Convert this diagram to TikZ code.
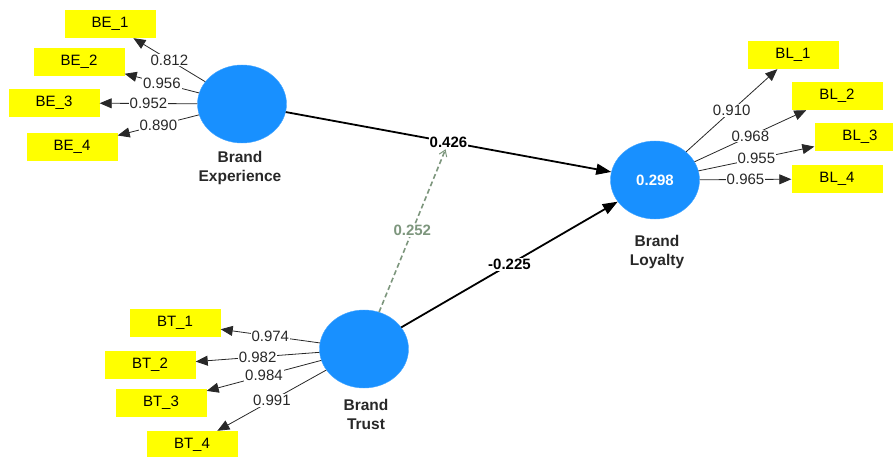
\documentclass[tikz,border=0pt]{standalone}
\usepackage{fontspec}
\setmainfont{Liberation Sans}
\usetikzlibrary{arrows.meta}
\usetikzlibrary{shapes.geometric}
\usetikzlibrary{positioning}
\definecolor{latentBlue}{RGB}{24,144,255}
\definecolor{itemYellow}{RGB}{255,255,0}
\definecolor{modGreen}{RGB}{125,150,125}
\definecolor{textGray}{RGB}{40,40,40}

\begin{document}
\begin{tikzpicture}[x=1pt,y=-1pt,
  latent/.style={ellipse,fill=latentBlue,draw=latentBlue!80!white,
  minimum width=89pt,minimum height=78pt,inner sep=0pt,
  text=white,font=\fontsize{15}{17}\selectfont\bfseries},
  indicator/.style={rectangle,fill=itemYellow,minimum width=91pt,
  minimum height=28pt,inner sep=0pt,font=\fontsize{15}{17}\selectfont},
  latent label/.style={align=center,text=textGray,
  font=\fontsize{15.5}{19}\selectfont\bfseries},
  loading/.style={-{Triangle[length=12pt,width=10pt]},line width=0.8pt,
  draw=textGray},
  weight/.style={fill=white,inner sep=1pt,text=textGray,
  font=\fontsize{15}{17}\selectfont},
  path coef/.style={-{Triangle[length=15pt,width=11pt]},line width=1.8pt},
  coef/.style={fill=white,inner sep=1pt,font=\fontsize{15}{17}\selectfont\bfseries}]
\clip (0,0) rectangle (893,457);
%------------------------------------------------------------------------
% Constructs
%------------------------------------------------------------------------
\node[latent] (BE) at (242,104) {};
\node[latent] (BL) at (655,180) {0.298};
\node[latent] (BT) at (364,349) {};
\node[latent label] (BElab) at (240,168) {Brand\\Experience};
\node[latent label] (BLlab) at (657,252) {Brand\\Loyalty};
\node[latent label] (BTlab) at (366,414) {Brand\\Trust};
%------------------------------------------------------------------------
% Indicators
%------------------------------------------------------------------------
\node[indicator] (BE1) at (110,24) {BE\_1};
\node[indicator] (BE2) at (79,62) {BE\_2};
\node[indicator] (BE3) at (54,103) {BE\_3};
\node[indicator] (BE4) at (72,147) {BE\_4};
\node[indicator] (BL1) at (793,55) {BL\_1};
\node[indicator] (BL2) at (837,96) {BL\_2};
\node[indicator] (BL3) at (860,137) {BL\_3};
\node[indicator] (BL4) at (837,179) {BL\_4};
\node[indicator] (BT1) at (175,323) {BT\_1};
\node[indicator] (BT2) at (150,365) {BT\_2};
\node[indicator] (BT3) at (161,403) {BT\_3};
\node[indicator] (BT4) at (192,445) {BT\_4};
%------------------------------------------------------------------------
% Outer loadings
%------------------------------------------------------------------------
\draw[loading] (BE) -- node[weight]{0.812} (BE1);
\draw[loading] (BE) -- node[weight]{0.956} (BE2);
\draw[loading] (BE) -- node[weight]{0.952} (BE3);
\draw[loading] (BE) -- node[weight]{0.890} (BE4);
\draw[loading] (BL) -- node[weight]{0.910} (BL1);
\draw[loading] (BL) -- node[weight]{0.968} (BL2);
\draw[loading] (BL) -- node[weight]{0.955} (BL3);
\draw[loading] (BL) -- node[weight]{0.965} (BL4);
\draw[loading] (BT) -- node[weight]{0.974} (BT1);
\draw[loading] (BT) -- node[weight]{0.982} (BT2);
\draw[loading] (BT) -- node[weight]{0.984} (BT3);
\draw[loading] (BT) -- node[weight]{0.991} (BT4);
%------------------------------------------------------------------------
% Structural paths and the moderating effect
%------------------------------------------------------------------------
\draw[path coef] (BE) -- node[coef] (c426) {0.426} (BL);
\draw[path coef] (BT) -- node[coef] (c225) {-0.225} (BL);
\draw[modGreen,dashed,dash pattern=on 5pt off 3pt,line width=1.6pt,
  -{Straight Barb[length=6pt,width=8pt,line width=1pt]}]
  (BT) -- node[coef,text=modGreen] (c252) {0.252} (c426);

\end{tikzpicture}
\end{document}
